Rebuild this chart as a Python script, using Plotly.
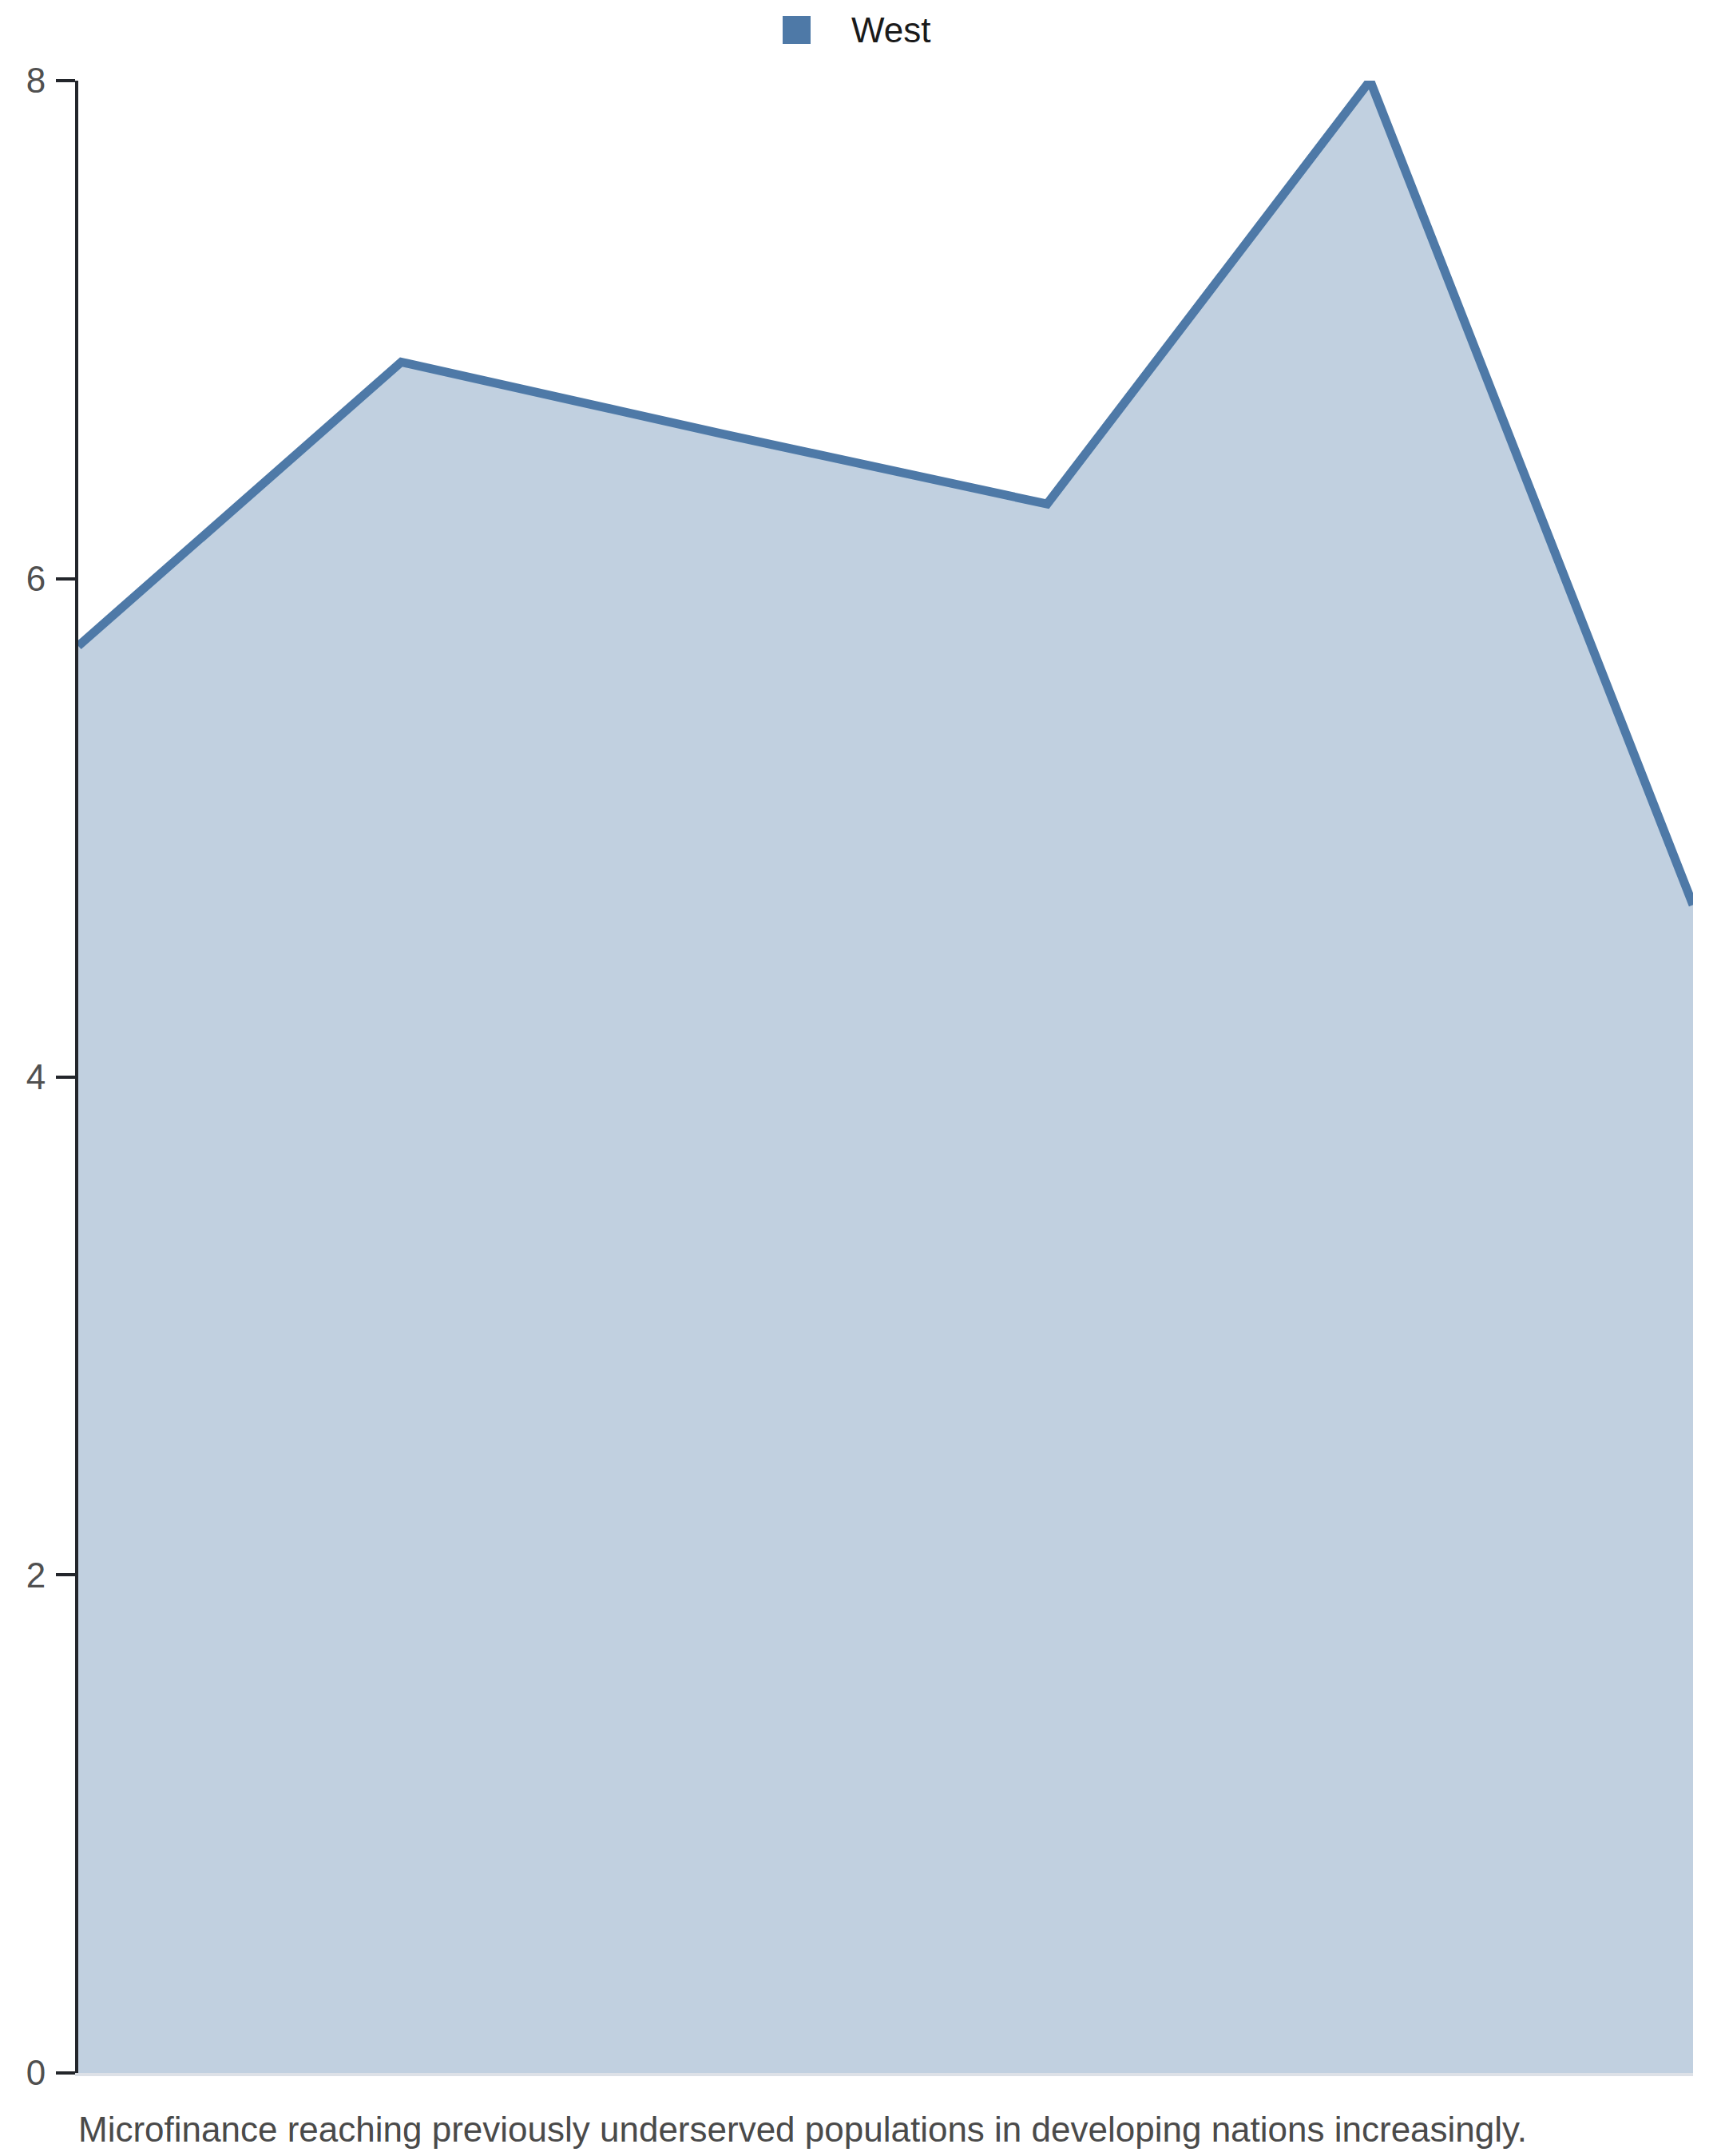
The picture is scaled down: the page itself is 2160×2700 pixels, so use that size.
import plotly.graph_objects as go

# Data
categories = [0, 1, 2, 3, 4, 5]
west_values = [5.73, 6.87, 6.58, 6.30, 8.0, 4.69]
y_ticks = [0, 2, 4, 6, 8]
series_name = "West"
caption = "Microfinance reaching previously underserved populations in developing nations increasingly."

LINE = "#4e79a7"
FILL = "rgba(78,121,167,0.35)"
FONT = "Liberation Sans, Arial, Helvetica, sans-serif"

W, H = 2160, 2700
OFF = 8  # page body offset
# target plot area in page pixels
PX0, PX1, PY0, PY1 = 98, 2120, 101, 2596
L = PX0 - OFF
R = W - (PX1 - OFF)
T = PY0 - OFF
B = H - (PY1 - OFF)

def px_to_paper_x(px):
    return (px - PX0) / (PX1 - PX0)

def px_to_paper_y(py):
    return (PY1 - py) / (PY1 - PY0)

fig = go.Figure()
fig.add_trace(go.Scatter(
    x=categories, y=west_values, mode="lines", name=series_name,
    line=dict(color=LINE, width=11), fill="tozeroy", fillcolor=FILL,
    showlegend=False, cliponaxis=False,
))

fig.update_layout(
    width=W, height=H,
    margin=dict(l=L, r=R, t=T, b=B),
    paper_bgcolor="white", plot_bgcolor="white",
    font=dict(family=FONT),
    showlegend=False,
    xaxis=dict(range=[categories[0], categories[-1]], showgrid=False, zeroline=False,
               showticklabels=False, ticks="", showline=True,
               linecolor="#dde1e7", linewidth=4),
    yaxis=dict(range=[0, 8], tickvals=y_ticks, showgrid=False, zeroline=False,
               showline=True, linecolor="#23262b", linewidth=4,
               ticks="outside", ticklen=24, tickwidth=4, tickcolor="#23262b",
               ticklabelstandoff=4,
               tickfont=dict(size=44, color="#505050", family=FONT)),
)

# Legend swatch and label
fig.add_shape(type="rect", xref="paper", yref="paper",
              x0=px_to_paper_x(980), x1=px_to_paper_x(1015),
              y0=px_to_paper_y(55), y1=px_to_paper_y(20),
              line=dict(width=0), fillcolor=LINE, layer="above")
fig.add_annotation(text=series_name, xref="paper", yref="paper",
                   x=px_to_paper_x(1064), y=px_to_paper_y(38),
                   xanchor="left", yanchor="middle", showarrow=False,
                   font=dict(size=44, color="#1a1a1a", family=FONT))

fig.add_annotation(text=caption, xref="paper", yref="paper",
                   x=px_to_paper_x(96), y=px_to_paper_y(2666),
                   xanchor="left", yanchor="middle", showarrow=False,
                   font=dict(size=44, color="#4a4a4a", family=FONT))

fig.write_html("out.html")
